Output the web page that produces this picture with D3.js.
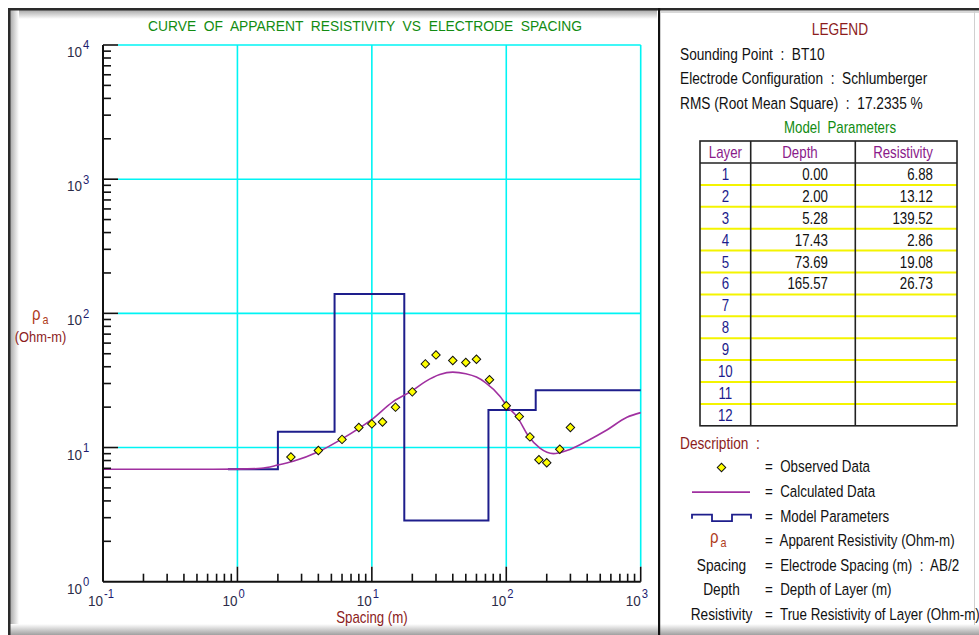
<!DOCTYPE html>
<html><head><meta charset="utf-8">
<script src="https://cdn.jsdelivr.net/npm/d3@7"></script>
<style>html,body{margin:0;padding:0;background:#fff;overflow:hidden}</style>
</head><body><svg id="c" width="979" height="635"></svg>
<script>
// ---------------- data ----------------
const spacingObs = [2.5, 4, 6, 8, 10, 12, 15, 20, 25, 30, 40, 50, 60, 75, 100, 125, 150, 175, 200, 250, 300];
const rhoObs     = [8.5, 9.5, 11.5, 14.1, 15.0, 15.5, 20.0, 26.0, 42.0, 49.0, 44.5, 43.0, 45.5, 32.0, 20.5, 17.0, 12.0, 8.1, 7.7, 9.7, 14.1];
const spacingCalc = [0.1, 0.5, 1.0, 1.5, 2.0, 2.6, 4.0, 6.0, 10, 14.4, 19.7, 25, 32, 40, 50, 60, 70, 90, 101, 120, 146, 178, 224, 282, 400, 560, 790, 1000];
const rhoCalc     = [6.88, 6.88, 6.9, 7.0, 7.4, 7.9, 9.3, 11.6, 16.2, 22, 26.3, 31, 35, 36.5, 35.5, 33.5, 30.5, 24, 20.4, 17, 12.2, 9.9, 9.0, 9.5, 11.2, 13.5, 16.8, 18.2];
const layerNo    = [1, 2, 3, 4, 5, 6, 7, 8, 9, 10, 11, 12];
const layerDepth = [0.00, 2.00, 5.28, 17.43, 73.69, 165.57];
const layerRes   = [6.88, 13.12, 139.52, 2.86, 19.08, 26.73];
const modelStart = 0.85, modelEnd = 1000;
const xDecades = [-1, 0, 1, 2, 3];
const yDecades = [0, 1, 2, 3, 4];
const infoLines = ["Sounding Point  :  BT10", "Electrode Configuration  :  Schlumberger", "RMS (Root Mean Square)  :  17.2335 %"];
const descTexts = ["=  Observed Data", "=  Calculated Data", "=  Model Parameters", "=  Apparent Resistivity (Ohm-m)",
                   "=  Electrode Spacing (m)  :  AB/2", "=  Depth of Layer (m)", "=  True Resistivity of Layer (Ohm-m)"];

// ---------------- setup ----------------
const FONT = '"Liberation Sans",Arial,sans-serif';
const svg = d3.select("#c").style("font-family", FONT);
const defs = svg.append("defs");
function grad(id, x1, y1, x2, y2, stops) {
  const g = defs.append("linearGradient").attr("id", id).attr("x1", x1).attr("y1", y1).attr("x2", x2).attr("y2", y2);
  stops.forEach(s => g.append("stop").attr("offset", s[0]).attr("stop-color", s[1]));
}
grad("gTop", 0, 0, 0, 1, [[0, "#a8a8a8"], [1, "#ffffff"]]);
grad("gLeft", 0, 0, 1, 0, [[0, "#a8a8a8"], [1, "#ffffff"]]);
grad("gBot", 0, 0, 0, 1, [[0, "#ffffff"], [1, "#a0a0a0"]]);

svg.append("rect").attr("width", 979).attr("height", 635).attr("fill", "#fff");
// frame / bevels
svg.append("rect").attr("x", 10).attr("y", 10).attr("width", 647).attr("height", 9).attr("fill", "url(#gTop)");
svg.append("rect").attr("x", 10).attr("y", 10).attr("width", 9).attr("height", 625).attr("fill", "url(#gLeft)");
svg.append("rect").attr("x", 10).attr("y", 624).attr("width", 969).attr("height", 11).attr("fill", "url(#gBot)");
svg.append("rect").attr("x", 661).attr("y", 11).attr("width", 318).attr("height", 2).attr("fill", "#d8d8d8");
svg.append("rect").attr("x", 974).attr("y", 11).attr("width", 1).attr("height", 614).attr("fill", "#d0d0d0");
svg.append("rect").attr("x", 8).attr("y", 8).attr("width", 971).attr("height", 2.5).attr("fill", "#2a2a2a");
svg.append("rect").attr("x", 8).attr("y", 8).attr("width", 2.5).attr("height", 627).attr("fill", "#2a2a2a");
svg.append("rect").attr("x", 658).attr("y", 8).attr("width", 2.2).attr("height", 627).attr("fill", "#111");

// ---------------- scales ----------------
const x = d3.scaleLog().domain([0.1, 1000]).range([103, 640.7]);
const y = d3.scaleLog().domain([1, 10000]).range([581.7, 45]);
const CYAN = "#00f4f4";

// title
svg.append("text").attr("class", "title").attr("x", 148).attr("y", 30.5).attr("textLength", 434).attr("lengthAdjust", "spacingAndGlyphs")
  .attr("font-size", 15.5).attr("fill", "#128c12").attr("xml:space", "preserve").style("white-space", "pre")
  .text("CURVE  OF  APPARENT  RESISTIVITY  VS  ELECTRODE  SPACING");

// grid
const g = svg.append("g");
g.selectAll(".vg").data(xDecades.filter(d => d >= 0)).enter().append("line")
  .attr("x1", d => x(Math.pow(10, d))).attr("x2", d => x(Math.pow(10, d)))
  .attr("y1", y(10000)).attr("y2", y(1) - 15).attr("stroke", CYAN).attr("stroke-width", 1.6);
g.selectAll(".hg").data(yDecades.filter(d => d >= 1)).enter().append("line")
  .attr("x1", x(0.1) + 15).attr("x2", x(1000))
  .attr("y1", d => y(Math.pow(10, d))).attr("y2", d => y(Math.pow(10, d))).attr("stroke", CYAN).attr("stroke-width", 1.6);

// model parameters (step)
const modelPts = [[modelStart, layerRes[0]]];
for (let i = 1; i < layerDepth.length; i++) modelPts.push([layerDepth[i], layerRes[i]]);
modelPts.push([modelEnd, layerRes[layerRes.length - 1]]);
g.append("path").datum(modelPts)
  .attr("d", d3.line().x(d => x(d[0])).y(d => y(d[1])).curve(d3.curveStepAfter))
  .attr("fill", "none").attr("stroke", "#1e1e8c").attr("stroke-width", 2);

// calculated curve
g.append("path").datum(spacingCalc.map((s, i) => [s, rhoCalc[i]]))
  .attr("d", d3.line().x(d => x(d[0])).y(d => y(d[1])).curve(d3.curveMonotoneX))
  .attr("fill", "none").attr("stroke", "#a030a0").attr("stroke-width", 1.6);

// axes
const ax = svg.append("g").attr("stroke", "#111");
ax.append("line").attr("x1", x(0.1)).attr("x2", x(0.1)).attr("y1", y(10000)).attr("y2", y(1)).attr("stroke-width", 2);
ax.append("line").attr("x1", x(0.1)).attr("x2", x(1000)).attr("y1", y(1)).attr("y2", y(1)).attr("stroke-width", 2);
const isMajor = v => Math.abs(Math.log10(v) - Math.round(Math.log10(v))) < 1e-9;
ax.selectAll(".xt").data(x.ticks().filter(v => v > 0.1)).enter().append("line")
  .attr("x1", d => x(d)).attr("x2", d => x(d)).attr("y1", y(1)).attr("y2", d => y(1) - (isMajor(d) ? 15 : 8))
  .attr("stroke-width", 1.6);
ax.selectAll(".yt").data(y.ticks().filter(v => v > 1)).enter().append("line")
  .attr("y1", d => y(d)).attr("y2", d => y(d)).attr("x1", x(0.1)).attr("x2", d => x(0.1) + (isMajor(d) ? 15 : 8))
  .attr("stroke-width", 1.6);

// observed points
g.selectAll(".pt").data(spacingObs.map((s, i) => [s, rhoObs[i]])).enter().append("path")
  .attr("d", d3.symbol(d3.symbolSquare).size(36))
  .attr("transform", d => `translate(${x(d[0])},${y(d[1])}) rotate(45)`)
  .attr("fill", "#ffff00").attr("stroke", "#111").attr("stroke-width", 1);

// tick labels
const LBL = "#2c2c48", EXP = "#1c1c70";
xDecades.forEach(d => {
  const px = x(Math.pow(10, d));
  svg.append("text").attr("class", "tl").attr("x", px).attr("y", 606).attr("text-anchor", "end").attr("font-size", 15).attr("fill", LBL).text("10");
  svg.append("text").attr("class", "tl").attr("x", px + 1).attr("y", 598.5).attr("font-size", 12.5).attr("fill", EXP).text(String(d));
});
yDecades.forEach(d => {
  const py = y(Math.pow(10, d));
  svg.append("text").attr("class", "tl").attr("x", 82).attr("y", py + 12).attr("text-anchor", "end").attr("font-size", 15).attr("fill", LBL).text("10");
  svg.append("text").attr("class", "tl").attr("x", 83).attr("y", py + 4.5).attr("font-size", 12.5).attr("fill", EXP).text(String(d));
});

// axis titles
const DRED = "#8c1c1c";
svg.append("text").attr("x", 372).attr("y", 623).attr("text-anchor", "middle").attr("font-size", 16).attr("fill", DRED).text("Spacing (m)");
svg.append("text").attr("x", 32).attr("y", 320).attr("font-size", 18).attr("fill", "#b03c1c").text("ρ");
svg.append("text").attr("x", 42.5).attr("y", 324).attr("font-size", 13).attr("fill", "#b03c1c").text("a");
svg.append("text").attr("x", 40.5).attr("y", 342).attr("text-anchor", "middle").attr("font-size", 15.5).attr("fill", DRED).text("(Ohm-m)");

// ---------------- legend panel ----------------
svg.append("text").attr("x", 840).attr("y", 35.5).attr("text-anchor", "middle").attr("font-size", 16.5).attr("fill", DRED).text("LEGEND");
svg.selectAll(".info").data(infoLines).enter().append("text")
  .attr("x", 680).attr("y", (d, i) => 60 + i * 24.5).attr("font-size", 16.5).attr("fill", "#111").attr("xml:space", "preserve")
  .style("white-space", "pre").text(d => d);
svg.append("text").attr("x", 840).attr("y", 133).attr("text-anchor", "middle").attr("font-size", 16).attr("fill", "#128c12")
  .attr("xml:space", "preserve").style("white-space", "pre").text("Model  Parameters");

// table
const tx = [700, 750.7, 855.3, 957], tTop = 141, tHead = 163, rowH = 21.9;
const tBot = tHead + rowH * layerNo.length;
const tb = svg.append("g");
tb.selectAll(".yl").data(layerNo.slice(1)).enter().append("line")
  .attr("x1", tx[0]).attr("x2", tx[3]).attr("y1", (d, i) => tHead + (i + 1) * rowH).attr("y2", (d, i) => tHead + (i + 1) * rowH)
  .attr("stroke", "#f4f400").attr("stroke-width", 2);
tb.append("rect").attr("x", tx[0]).attr("y", tTop).attr("width", tx[3] - tx[0]).attr("height", tBot - tTop)
  .attr("fill", "none").attr("stroke", "#222").attr("stroke-width", 1.6);
tb.append("line").attr("x1", tx[0]).attr("x2", tx[3]).attr("y1", tHead).attr("y2", tHead).attr("stroke", "#222").attr("stroke-width", 1.6);
[tx[1], tx[2]].forEach(v => tb.append("line").attr("x1", v).attr("x2", v).attr("y1", tTop).attr("y2", tBot).attr("stroke", "#222").attr("stroke-width", 1.6));
const PURP = "#8a1a8a";
[["Layer", (tx[0] + tx[1]) / 2], ["Depth", 800], ["Resistivity", 903]].forEach(h =>
  tb.append("text").attr("x", h[1]).attr("y", tTop + 17.5).attr("text-anchor", "middle").attr("font-size", 16).attr("fill", PURP).text(h[0]));
tb.selectAll(".ln").data(layerNo).enter().append("text")
  .attr("x", (tx[0] + tx[1]) / 2).attr("y", (d, i) => tHead + i * rowH + 17).attr("text-anchor", "middle")
  .attr("font-size", 16).attr("fill", "#1c1c8c").text(d => d);
tb.selectAll(".dp").data(layerDepth).enter().append("text")
  .attr("x", 828).attr("y", (d, i) => tHead + i * rowH + 17).attr("text-anchor", "end")
  .attr("font-size", 16).attr("fill", "#111").text(d => d.toFixed(2));
tb.selectAll(".rs").data(layerRes).enter().append("text")
  .attr("x", 933).attr("y", (d, i) => tHead + i * rowH + 17).attr("text-anchor", "end")
  .attr("font-size", 16).attr("fill", "#111").text(d => d.toFixed(2));

// description
svg.append("text").attr("x", 680).attr("y", 449).attr("font-size", 16.5).attr("fill", DRED).attr("xml:space", "preserve").style("white-space", "pre").text("Description  :");
const dy0 = 472.5, dStep = 24.6;
svg.selectAll(".ds").data(descTexts).enter().append("text").attr("class", "desc")
  .attr("x", 765).attr("y", (d, i) => dy0 + i * dStep).attr("font-size", 16.5).attr("fill", "#111")
  .attr("xml:space", "preserve").style("white-space", "pre").text(d => d);
const cx = 721.5;
svg.append("path").attr("d", d3.symbol(d3.symbolSquare).size(36)).attr("transform", `translate(${cx},${dy0 - 5}) rotate(45)`)
  .attr("fill", "#ffff00").attr("stroke", "#111").attr("stroke-width", 1);
svg.append("line").attr("x1", 692).attr("x2", 750).attr("y1", dy0 + dStep - 5).attr("y2", dy0 + dStep - 5).attr("stroke", "#a030a0").attr("stroke-width", 1.6);
const my = dy0 + 2 * dStep;
svg.append("path").attr("d", `M692,${my - 3}V${my - 7}H712V${my - 0.5}H732V${my - 7}H751V${my - 3}`)
  .attr("fill", "none").attr("stroke", "#1e1e8c").attr("stroke-width", 1.8);
svg.append("text").attr("x", 710).attr("y", dy0 + 3 * dStep - 3).attr("font-size", 18).attr("fill", "#b03c1c").text("ρ");
svg.append("text").attr("x", 720.5).attr("y", dy0 + 3 * dStep + 1).attr("font-size", 13).attr("fill", "#b03c1c").text("a");
["Spacing", "Depth", "Resistivity"].forEach((t, i) =>
  svg.append("text").attr("x", cx).attr("y", dy0 + (4 + i) * dStep).attr("text-anchor", "middle").attr("font-size", 16.5).attr("fill", "#111").text(t));

// narrow the sans-serif glyphs (scale about each text's anchor x) to imitate the original condensed UI font
svg.selectAll("text").filter(function () { return !this.classList.contains("title"); }).each(function () {
  const f = this.classList.contains("tl") ? 0.9 : (this.classList.contains("desc") ? 0.81 : 0.83);
  const ax0 = +this.getAttribute("x");
  d3.select(this).attr("transform", `translate(${ax0},0) scale(${f},1) translate(${-ax0},0)`);
});
</script></body></html>
